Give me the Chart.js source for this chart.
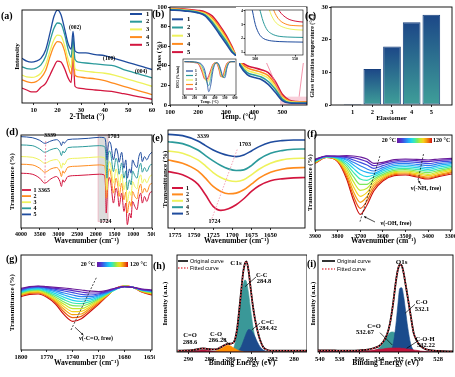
<!DOCTYPE html>
<html>
<head>
<meta charset="utf-8">
<script src="https://cdn.jsdelivr.net/npm/chart.js@4.4.1/dist/chart.umd.min.js"></script>
<style>
  body { margin: 0; background: #fff; width: 455px; height: 377px; overflow: hidden; position: relative; }
  canvas { position: absolute; }
  .lab { position: absolute; z-index: 5; font: bold 10px 'Liberation Serif', 'Times New Roman', serif; line-height: 10px; }
</style>
</head>
<body>
<div class="lab" style="left:1px;top:11px">(a)</div>
<div class="lab" style="left:152px;top:9px">(b)</div>
<div class="lab" style="left:305px;top:11px">(c)</div>
<div class="lab" style="left:6px;top:127px">(d)</div>
<div class="lab" style="left:152px;top:133px">(e)</div>
<div class="lab" style="left:307px;top:129px">(f)</div>
<div class="lab" style="left:6px;top:254px">(g)</div>
<div class="lab" style="left:153px;top:261px">(h)</div>
<div class="lab" style="left:307px;top:259px">(i)</div>
<script>
// ---------- data ----------
// colours of samples 1..5
const S1 = '#1f4c9e', S2 = '#2b9a9b', S3 = '#eef25c', S4 = '#ff8b1e', S5 = '#d3163f';

// (a) XRD
const xrdTheta = [5, 7, 9, 11, 13, 15, 17, 18.5, 20, 21.5, 23, 24.5, 25.8, 26.6, 27.4, 29, 32, 36, 40, 44, 48, 52, 56, 60];
const xrd1 = [48, 45, 44, 45, 48, 57, 77, 93, 100, 95, 80, 64, 58, 77, 56, 54, 54, 52, 51, 48, 45, 42, 39, 36];
const xrd2 = [39, 37, 36.5, 37.5, 41, 50, 68, 80, 86, 85, 74, 58, 49, 70, 47, 44, 43, 42, 41, 40, 36, 33, 30, 27];
const xrd3 = [30, 28, 27.5, 28.5, 32, 41, 57, 68, 73, 72, 62, 47, 38, 64, 37, 35, 34, 33, 32, 30, 27, 24, 21, 18];
const xrd4 = [25, 23, 22, 23, 27, 35, 51, 61, 66, 65, 56, 40, 31, 62, 30, 28, 27, 26, 24, 21, 18, 15, 12, 9];
const xrd5 = [16, 14, 12, 12, 17, 21, 31, 39, 45, 44, 37, 27, 22, 54, 18, 16, 15, 14, 13, 12, 10, 8, 6, 4];
const xrdTicks = [10, 20, 30, 40, 50, 60];

// (b) TGA
const tgaTemp = [100, 150, 200, 225, 250, 275, 300, 320, 335, 350, 375, 400, 425, 450, 475, 500, 525, 550, 588];
const tga1 = [97, 96, 94, 91, 83, 72.7, 62.5, 54, 50, 40, 31, 28, 26, 21, 13, 4.4, 2, 1.8, 1.7];
const tga2 = [97.5, 96.5, 94.5, 92, 85, 75, 65, 55.5, 50.2, 41.5, 33, 30.5, 28.5, 24, 16, 6, 2.5, 2.1, 2.1];
const tga3 = [98, 97, 95, 93, 87, 77.5, 67, 57, 50.4, 42.5, 35.5, 33, 31, 27.5, 18.5, 7.5, 3.2, 2.7, 2.6];
const tga4 = [98, 97.5, 95.5, 94, 89, 80, 69, 58.5, 50.6, 43.5, 38, 35.5, 33.5, 30, 21, 9, 4, 3, 2.9];
const tga5 = [98.5, 98, 96.5, 95, 91, 82, 71, 60, 50.8, 45, 40, 38, 36, 33, 24, 11, 5, 3.5, 3.2];
const tgaTicksX = [100, 200, 300, 400, 500];
const tgaTicksY = [0, 20, 40, 60, 80, 100];
// (b) zoomed tail inset
const tailTemp = [487, 495, 500, 505, 510, 515, 520, 525, 530, 540, 550, 560];
const tail1 = [5, 4.3, 3.0, 2.3, 2.0, 1.88, 1.82, 1.79, 1.77, 1.75, 1.74, 1.73];
const tail2 = [5, 5, 5, 4.2, 3.2, 2.6, 2.35, 2.22, 2.15, 2.1, 2.08, 2.07];
const tail3 = [5, 5, 5, 5, 5, 4.5, 3.7, 3.2, 2.95, 2.72, 2.63, 2.6];
const tail4 = [5, 5, 5, 5, 5, 5, 4.5, 3.8, 3.35, 3.0, 2.92, 2.9];
const tail5 = [5, 5, 5, 5, 5, 5, 5, 4.6, 4.0, 3.45, 3.25, 3.18];
// (b) DTG inset
const dtgTemp = [100, 150, 200, 240, 270, 300, 320, 340, 360, 380, 400, 420, 440, 460, 480, 500, 520, 540, 570, 600];
const dtg1 = [0, 0, -1, -3, -8, -25, -55, -90, -70, -30, -8, -3, -8, -25, -45, -48, -20, -4, 0, 0];
const dtg2 = [0, 0, -1, -4, -12, -35, -60, -72, -50, -20, -6, -3, -10, -30, -47, -40, -14, -3, 0, 0];
const dtg3 = [0, 0, -2, -5, -18, -45, -60, -58, -38, -14, -5, -4, -14, -38, -48, -32, -10, -2, 0, 0];
const dtg4 = [0, 0, -2, -6, -22, -50, -57, -50, -30, -11, -4, -5, -18, -42, -47, -25, -7, -2, 0, 0];
const dtg5 = [0, -1, -3, -8, -28, -52, -53, -42, -24, -9, -4, -6, -22, -45, -43, -20, -5, -1, 0, 0];

// (c) glass transition
const elastomer = [1, 2, 3, 4, 5];
const tgValues = [0.3, 11, 17.9, 25.3, 27.6];

// (d) FTIR full range
const ftirWn = [4000, 3700, 3500, 3365, 3200, 3050, 2960, 2920, 2880, 2850, 2750, 2500, 2200, 1900, 1780, 1740, 1724, 1703, 1680, 1640,
  1600, 1530, 1460, 1410, 1380, 1310, 1250, 1200, 1160, 1100, 1060, 1020, 960, 900, 850, 800, 760, 700, 640, 560, 500];
const ftir1 = [165, 162, 150, 135, 148, 155, 140, 125, 145, 138, 155, 158, 160, 162, 160, 120, 45, 80, 130, 152,
  135, 75, 120, 95, 65, 105, 50, 75, 10, 45, 30, 80, 65, 55, 90, 105, 75, 95, 80, 105, 110];
const ftir2 = [192, 190, 180, 168, 178, 182, 170, 155, 172, 165, 183, 186, 188, 190, 188, 165, 90, 100, 150, 178,
  162, 105, 150, 125, 95, 135, 85, 108, 45, 80, 65, 110, 95, 88, 118, 132, 105, 120, 108, 130, 135];
const ftir3 = [215, 213, 205, 195, 203, 206, 195, 180, 196, 190, 207, 210, 212, 214, 212, 195, 125, 115, 170, 200,
  188, 135, 178, 155, 125, 162, 115, 138, 78, 110, 98, 140, 125, 118, 148, 160, 135, 148, 136, 155, 160];
const ftir4 = [250, 248, 238, 228, 236, 240, 230, 218, 232, 226, 242, 244, 246, 248, 246, 232, 190, 150, 205, 232,
  222, 170, 210, 190, 162, 196, 150, 172, 115, 145, 130, 172, 158, 150, 180, 195, 168, 182, 170, 188, 192];
const ftir5 = [275, 272, 264, 255, 262, 266, 258, 248, 260, 255, 266, 268, 270, 273, 272, 262, 240, 205, 238, 260,
  252, 205, 240, 222, 198, 228, 180, 205, 150, 178, 165, 205, 190, 182, 215, 228, 200, 215, 205, 222, 228];
const ftirTicks = [4000, 3500, 3000, 2500, 2000, 1500, 1000, 500];

// (e) C=O region
const coWn = [1785, 1765, 1745, 1735, 1725, 1715, 1705, 1695, 1685, 1675, 1665, 1650, 1635, 1620, 1605];
const co1 = [170, 160, 132, 100, 65, 53, 58, 70, 88, 110, 127, 142, 148, 151, 152];
const co2 = [205, 195, 172, 150, 125, 110, 103, 105, 115, 132, 150, 168, 177, 181, 182];
const co3 = [232, 225, 205, 187, 167, 152, 143, 140, 145, 160, 177, 195, 205, 209, 210];
const co4 = [260, 254, 235, 218, 202, 188, 178, 173, 175, 188, 207, 225, 233, 237, 238];
const co5 = [282, 278, 262, 248, 235, 225, 218, 215, 220, 232, 245, 258, 263, 265, 265];
const coTicks = [1775, 1750, 1725, 1700, 1675, 1650];

// (f) variable-temperature FTIR, OH/NH region, 20 -> 120 °C
const ohWn = [3900, 3850, 3800, 3760, 3730, 3700, 3670, 3640, 3600, 3550, 3500, 3450, 3400, 3350, 3294];
const oh01 = [212, 222, 222, 223, 222, 219, 213, 200, 203, 211, 213, 212, 210, 213, 215];
const oh02 = [211, 222, 221, 220, 217, 212, 205, 193, 199, 207, 210, 208, 205, 209, 211];
const oh03 = [210, 221, 220, 217, 210, 203, 195, 185, 193, 203, 205, 203, 199, 204, 207];
const oh04 = [209, 221, 219, 213, 203, 193, 183, 177, 187, 198, 200, 197, 193, 199, 203];
const oh05 = [208, 221, 218, 209, 195, 181, 173, 170, 182, 193, 195, 192, 187, 194, 199];
const oh06 = [207, 220, 216, 203, 185, 167, 160, 165, 177, 188, 190, 187, 182, 189, 195];
const oh07 = [206, 220, 215, 197, 173, 153, 149, 159, 172, 183, 185, 182, 177, 184, 191];
const oh08 = [205, 220, 213, 190, 160, 137, 137, 153, 167, 179, 181, 177, 172, 179, 187];
const oh09 = [204, 219, 211, 183, 145, 119, 125, 147, 163, 175, 177, 173, 167, 175, 183];
const oh10 = [203, 219, 209, 175, 130, 101, 113, 140, 159, 172, 174, 169, 163, 171, 179];
const oh11 = [202, 219, 208, 167, 115, 83, 100, 133, 155, 169, 171, 165, 159, 167, 175];
const oh12 = [201, 218, 207, 160, 102, 65, 87, 125, 151, 166, 168, 162, 156, 164, 172];
const oh13 = [200, 218, 205, 153, 90, 47, 75, 117, 147, 163, 165, 159, 153, 161, 168];
const ohTicks = [3900, 3800, 3700, 3600, 3500, 3400, 3300];

// (g) variable-temperature FTIR, C=O region
const cfWn = [1800, 1790, 1780, 1770, 1760, 1750, 1740, 1730, 1720, 1710, 1700, 1690, 1680, 1670, 1660, 1648];
const cf01 = [185, 190, 192, 190, 188, 186, 183, 180, 177, 175, 179, 186, 190, 188, 183, 180];
const cf02 = [183, 189, 191, 188, 185, 182, 178, 174, 171, 171, 177, 185, 190, 188, 182, 179];
const cf03 = [181, 188, 190, 186, 182, 177, 172, 167, 165, 168, 175, 184, 190, 188, 181, 178];
const cf04 = [179, 186, 188, 184, 178, 171, 165, 160, 160, 165, 173, 183, 190, 188, 181, 177];
const cf05 = [177, 184, 186, 181, 174, 165, 157, 153, 155, 162, 172, 183, 190, 188, 180, 176];
const cf06 = [175, 182, 184, 178, 169, 158, 149, 146, 150, 159, 170, 182, 191, 188, 180, 175];
const cf07 = [173, 180, 182, 175, 164, 151, 141, 139, 145, 156, 169, 182, 191, 188, 179, 174];
const cf08 = [171, 178, 180, 172, 159, 144, 133, 132, 140, 153, 167, 183, 191, 188, 178, 172];
const cf09 = [169, 176, 178, 169, 154, 137, 124, 124, 135, 150, 166, 183, 191, 188, 178, 171];
const cf10 = [167, 174, 175, 166, 150, 130, 115, 116, 130, 147, 165, 184, 192, 188, 177, 169];
const cf11 = [165, 172, 173, 164, 146, 122, 106, 108, 125, 144, 164, 184, 192, 188, 176, 168];
const cf12 = [163, 170, 171, 161, 143, 114, 97, 101, 120, 140, 163, 185, 192, 188, 175, 167];
const cf13 = [160, 167, 168, 158, 138, 106, 86, 94, 115, 137, 162, 185, 192, 188, 174, 165];
const cfTicks = [1800, 1770, 1740, 1710, 1680, 1650];

// (h) XPS C1s
const c1sBE = [291, 290, 289.5, 289, 288.6, 288.2, 287.8, 287.4, 287, 286.6, 286.3, 286, 285.7, 285.4, 285.2, 285,
  284.8, 284.65, 284.5, 284.3, 284.1, 283.9, 283.7, 283.5, 283.2, 282.9, 282.5, 282, 281, 280, 278.77];
const c1sOrig = [4, 5, 6, 9, 11, 9, 8, 8, 13, 20, 24, 25, 29, 65, 120, 182, 240, 264, 271, 243, 190, 140, 100, 70, 35, 14, 6, 4, 4, 4, 4];
const c1sCdO = [0, 0.5, 2, 5, 7, 5, 3, 1, 0, 0, 0, 0, 0, 0, 0, 0, 0, 0, 0, 0, 0, 0, 0, 0, 0, 0, 0, 0, 0, 0, 0];
const c1sCO = [0, 0, 0, 0, 0, 0, 1, 3, 9, 16, 20, 18, 12, 7, 4, 2, 1, 0, 0, 0, 0, 0, 0, 0, 0, 0, 0, 0, 0, 0, 0];
const c1sCC = [0, 0, 0, 0, 0, 0, 0, 0, 0, 0, 0, 3, 13, 54, 105, 160, 203, 215, 210, 175, 125, 80, 45, 22, 6, 1, 0, 0, 0, 0, 0];
const c1sCeC = [0, 0, 0, 0, 0, 0, 0, 0, 0, 0, 0, 0, 0, 0, 7, 16, 32, 45, 57, 67, 66, 58, 46, 32, 15, 6, 1, 0, 0, 0, 0];
const c1sTicks = [290, 288, 286, 284, 282, 280];

// (i) XPS O1s
const o1sBE = [540.2, 539, 538, 537, 536, 535, 534.5, 534, 533.6, 533.2, 532.9, 532.6, 532.3, 532.1, 531.9, 531.7,
  531.5, 531.3, 531.1, 530.8, 530.5, 530.2, 529.8, 529.4, 529, 528, 527, 526.5];
const o1sOrig = [5, 5, 4, 4, 5, 8, 12, 18, 30, 52, 85, 140, 210, 245, 262, 258, 235, 200, 165, 110, 58, 35, 18, 10, 6, 3, 2, 2];
const o1sCO = [0, 0, 0, 0, 0, 0, 0, 0, 0, 0, 2, 20, 80, 140, 190, 192, 165, 120, 75, 25, 5, 0, 0, 0, 0, 0, 0, 0];
const o1sCdO = [0, 0, 0, 0, 0, 1, 4, 12, 25, 45, 58, 60, 55, 48, 40, 32, 24, 16, 10, 5, 2, 0, 0, 0, 0, 0, 0, 0];
const o1sCOH = [3, 2, 1, 1, 2, 4, 6, 8, 9, 11, 12, 12, 12, 12, 12, 11, 11, 10, 9, 8, 6, 5, 3, 2, 1, 0.5, 0, 0];
const o1sTicks = [540, 538, 536, 534, 532, 530, 528];

// 20 °C (purple) -> 120 °C (red)
const RAINBOW = ['#6a1b9a', '#5b2bc4', '#3f4fe0', '#2c80f0', '#22aff5', '#22d6e6', '#3de8b0',
  '#7ee85c', '#c4e82c', '#f5d21e', '#f5a012', '#ee6010', '#cc1010'];

// ---------- helpers ----------
const SERIF = "'Liberation Serif', 'Times New Roman', serif";
const SANS = "'Liberation Sans', Arial, sans-serif";
function fs(size, weight, fam) { return (weight || 'bold') + ' ' + size + 'px ' + (fam || SERIF); }

function drawItem(ch, it) {
  const c = ch.ctx;
  const P = (x, y) => it.px ? [x, y] : [ch.scales.x.getPixelForValue(x), ch.scales.y.getPixelForValue(y)];
  c.save();
  c.strokeStyle = c.fillStyle = it.color || '#000';
  c.lineWidth = it.w || 0.8;
  c.setLineDash(it.dash || []);
  if (it.k === 't') {
    const p = P(it.x, it.y);
    c.font = fs(it.size || 6.5, it.weight, it.fam);
    c.textAlign = it.align || 'center';
    c.textBaseline = 'middle';
    c.fillText(it.s, p[0], p[1]);
  } else if (it.k === 'l') {
    const a = P(it.x1, it.y1), b = P(it.x2, it.y2);
    c.beginPath(); c.moveTo(a[0], a[1]); c.lineTo(b[0], b[1]); c.stroke();
    if (it.head) {
      const ang = Math.atan2(b[1] - a[1], b[0] - a[0]), h = it.head;
      c.setLineDash([]);
      c.beginPath(); c.moveTo(b[0], b[1]);
      c.lineTo(b[0] - h * Math.cos(ang - 0.45), b[1] - h * Math.sin(ang - 0.45));
      c.lineTo(b[0] - h * Math.cos(ang + 0.45), b[1] - h * Math.sin(ang + 0.45));
      c.closePath(); c.fill();
    }
  } else if (it.k === 'r') {
    const a = P(it.x1, it.y1), b = P(it.x2, it.y2);
    c.fillStyle = it.fill;
    c.fillRect(a[0], a[1], b[0] - a[0], b[1] - a[1]);
    if (it.stroke) { c.strokeStyle = it.stroke; c.strokeRect(a[0], a[1], b[0] - a[0], b[1] - a[1]); }
  } else if (it.k === 'leg') {
    it.items.forEach((e, i) => {
      const y = it.y + i * it.dy;
      c.strokeStyle = e[1]; c.lineWidth = it.lw || 2; c.setLineDash(e[2] || []);
      c.beginPath(); c.moveTo(it.x, y); c.lineTo(it.x + it.len, y); c.stroke();
      c.fillStyle = '#000';
      c.font = fs(it.size || 6.5, it.weight, it.fam);
      c.textAlign = 'left'; c.textBaseline = 'middle';
      c.fillText(e[0], it.x + it.len + (it.gap || 3), y);
    });
  } else if (it.k === 'cb') {
    const g = c.createLinearGradient(it.x, 0, it.x + it.wd, 0);
    RAINBOW.forEach((col, i) => g.addColorStop(i / (RAINBOW.length - 1), col));
    c.fillStyle = g;
    c.fillRect(it.x, it.y, it.wd, it.ht);
  }
  c.restore();
}

// frame, annotations, white background for insets
Chart.register({
  id: 'notes',
  beforeDraw(ch) {
    const o = ch.canvas._notes || {};
    if (o.bg) { ch.ctx.save(); ch.ctx.fillStyle = '#fff'; ch.ctx.fillRect(0, 0, ch.width, ch.height); ch.ctx.restore(); }
  },
  beforeDatasetsDraw(ch) { ((ch.canvas._notes || {}).under || []).forEach(it => drawItem(ch, it)); },
  afterDatasetsDraw(ch) {
    const o = ch.canvas._notes || {}, a = ch.chartArea, c = ch.ctx;
    c.save(); c.strokeStyle = '#000'; c.lineWidth = o.fw || 0.9;
    c.strokeRect(a.left, a.top, a.right - a.left, a.bottom - a.top);
    c.restore();
    (o.over || []).forEach(it => drawItem(ch, it));
  }
});

function axis(o, horiz) {
  const a = {
    type: 'linear', min: o.min, max: o.max, reverse: !!o.rev, offset: false,
    ticks: { display: !!o.ticks, font: { family: SERIF, size: o.tf || 6.5, weight: 'bold' }, color: '#000',
      padding: o.tp == null ? 1 : o.tp, maxRotation: 0, autoSkip: false, callback: v => String(v) },
    grid: { display: !!o.ticks, drawOnChartArea: false, color: '#000', tickLength: o.tl || 2, offset: false, lineWidth: 0.8 },
    border: { display: false },
    title: { display: !!o.title, text: o.title, color: '#000', font: { family: SERIF, size: o.ttf || 7, weight: 'bold' }, padding: 0 },
    afterFit: s => {
      if (horiz) { s.height = o.size; s.paddingLeft = 0; s.paddingRight = 0; }
      else { s.width = o.size; s.paddingTop = 0; s.paddingBottom = 0; }
    }
  };
  if (o.ticks) a.afterBuildTicks = s => { s.ticks = o.ticks.map(v => ({ value: v })); };
  return a;
}

function chart(box, sets, o) {
  const cv = document.createElement('canvas');
  cv.width = box[2]; cv.height = box[3];
  cv.style.left = box[0] + 'px'; cv.style.top = box[1] + 'px';
  cv._notes = o.notes || {};
  document.body.appendChild(cv);
  return new Chart(cv, {
    type: o.type || 'line',
    data: { datasets: sets },
    options: {
      responsive: false, animation: false, devicePixelRatio: 1, events: [],
      layout: { padding: { left: o.pad[0], top: o.pad[1], right: o.pad[2], bottom: 0 } },
      scales: { x: axis(o.x, true), y: axis(o.y, false) },
      plugins: { legend: { display: false }, tooltip: { enabled: false } }
    }
  });
}

function line(xs, ys, color, w, more) {
  return Object.assign({
    data: xs.map((x, i) => ({ x: x, y: ys[i] })),
    borderColor: color, borderWidth: w, pointRadius: 0, fill: false,
    cubicInterpolationMode: 'monotone'
  }, more || {});
}
function area(xs, ys, color) { return line(xs, ys, color, 0.6, { fill: 'origin', backgroundColor: color }); }

const legend5 = [['1', S1], ['2', S2], ['3', S3], ['4', S4], ['5', S5]];
const legend5r = [['1', S5], ['2', S4], ['3', S3], ['4', S2], ['5', S1]];
const WN = 'Wavenumber (cm\u207B\u00B9)';

// ---------- (a) ----------
chart([0, 0, 155, 122], [
  line(xrdTheta, xrd1, S1, 1.3), line(xrdTheta, xrd2, S2, 1.3), line(xrdTheta, xrd3, S3, 1.3),
  line(xrdTheta, xrd4, S4, 1.3), line(xrdTheta, xrd5, S5, 1.3)
], {
  pad: [12.5, 10, 3],
  x: { min: 5, max: 60, ticks: xrdTicks, title: '2-Theta (\u00B0)', size: 19, ttf: 7.5 },
  y: { min: 0, max: 100, title: 'Intensity', size: 9.5 },
  notes: { over: [
    { k: 't', px: 1, x: 75, y: 28, s: '(002)', size: 5.5 },
    { k: 't', px: 1, x: 109, y: 59, s: '(100)', size: 5.5 },
    { k: 't', px: 1, x: 141, y: 72, s: '(004)', size: 5.5 },
    { k: 'leg', px: 1, x: 130, y: 14, dy: 7.7, len: 12, lw: 2, gap: 4, size: 6.5, items: legend5 }
  ] }
});

// ---------- (b) ----------
chart([152, 0, 157, 122], [
  line(tgaTemp, tga1, S1, 1.6), line(tgaTemp, tga2, S2, 1.6), line(tgaTemp, tga3, S3, 1.6),
  line(tgaTemp, tga4, S4, 1.6), line(tgaTemp, tga5, S5, 1.6)
], {
  pad: [3, 7, 2],
  x: { min: 100, max: 588, ticks: tgaTicksX, title: 'Temp. (\u00B0C)', size: 17, ttf: 7.5 },
  y: { min: 0, max: 100, ticks: tgaTicksY, title: 'Mass (%)', size: 15 },
  notes: {
    under: [{ k: 'r', x1: 492, y1: 0, x2: 588, y2: 8.5, fill: 'rgba(244,170,190,0.55)' }],
    over: [
      { k: 'leg', px: 1, x: 20, y: 19.3, dy: 8.2, len: 11, lw: 2, gap: 4, size: 6.5, items: legend5 },
      { k: 'l', x1: 497, y1: 8.5, x2: 433, y2: 50, color: '#f07a95', w: 0.8, head: 3 },
      { k: 'l', x1: 560, y1: 8.5, x2: 578, y2: 50, color: '#f07a95', w: 0.8, head: 3 }
    ]
  }
});

// (b) inset: tail of TGA curves
chart([236, 7, 70, 56], [
  line(tailTemp, tail1, S1, 1), line(tailTemp, tail2, S2, 1), line(tailTemp, tail3, S3, 1),
  line(tailTemp, tail4, S4, 1), line(tailTemp, tail5, S5, 1)
], {
  pad: [0, 3, 3],
  x: { min: 487, max: 560, ticks: [500, 550], size: 8, tf: 4, tl: 1.5, tp: 0.5 },
  y: { min: 0.8, max: 4.05, ticks: [1, 2, 3, 4], size: 9, tf: 4, tl: 1.5, tp: 0.5 },
  notes: { bg: true, fw: 0.6 }
});

// (b) inset: DTG
chart([172, 56, 67, 48], [
  line(dtgTemp, dtg1, S1, 0.8), line(dtgTemp, dtg2, S2, 0.8), line(dtgTemp, dtg3, S3, 0.8),
  line(dtgTemp, dtg4, S4, 0.8), line(dtgTemp, dtg5, S5, 0.8)
], {
  pad: [4, 3, 3],
  x: { min: 85, max: 610, ticks: [100, 200, 300, 400, 500, 600], title: 'Temp. (\u00B0C)', size: 9, tf: 3.4, ttf: 3.8, tl: 1.2, tp: 0.3 },
  y: { min: -100, max: 8, title: 'DTG (%/min)', size: 7, ttf: 3.6 },
  notes: { bg: true, fw: 0.6, over: [
    { k: 'leg', px: 1, x: 14, y: 15, dy: 4.5, len: 7, lw: 1.2, gap: 2, size: 3.6, items: legend5 }
  ] }
});

// ---------- (c) ----------
chart([305, 0, 150, 122], [{
  data: elastomer.map((x, i) => ({ x: x, y: tgValues[i] })),
  backgroundColor: ctx => {
    const ch = ctx.chart;
    if (!ch.chartArea || !ctx.parsed) return '#2a6a92';
    const ys = ch.scales.y;
    const top = ys.getPixelForValue(ctx.parsed.y), bot = ys.getPixelForValue(0);
    const g = ch.ctx.createLinearGradient(0, top, 0, bot + 0.01);
    g.addColorStop(0, '#1c4787');
    g.addColorStop(1, '#3f9f99');
    return g;
  },
  borderColor: '#17407e', borderWidth: 1, borderSkipped: false,
  barPercentage: 0.9, categoryPercentage: 1
}], {
  type: 'bar',
  pad: [4, 7, 3],
  x: { min: -0.1, max: 6.05, ticks: elastomer, title: 'Elastomer', size: 17, ttf: 7 },
  y: { min: 0, max: 30, ticks: [0, 10, 20, 30], title: 'Glass transition temperature (\u00B0C)', size: 22, ttf: 5.8 },
  notes: {}
});

// ---------- (d) ----------
chart([0, 124, 155, 122], [
  line(ftirWn, ftir5, S1, 1), line(ftirWn, ftir4, S2, 1), line(ftirWn, ftir3, S3, 1),
  line(ftirWn, ftir2, S4, 1), line(ftirWn, ftir1, S5, 1)
], {
  pad: [7.5, 11, 3],
  x: { min: 500, max: 4000, rev: true, ticks: ftirTicks, title: WN, size: 18, tf: 6, ttf: 7.5 },
  y: { min: 0, max: 280, title: 'Transmittance (%)', size: 13.5 },
  notes: {
    under: [{ k: 'r', x1: 1940, y1: 20, x2: 1675, y2: 280, fill: 'rgba(205,205,205,0.7)', stroke: 'rgba(240,170,185,0.9)' }],
    over: [
      { k: 'l', x1: 3339, y1: 262, x2: 3365, y2: 135, color: '#f07a95', dash: [2, 1.5], w: 0.8 },
      { k: 't', px: 1, x: 50, y: 11.5, s: '3339', size: 6 },
      { k: 't', px: 1, x: 113.5, y: 12.7, s: '1703', size: 6 },
      { k: 't', px: 1, x: 105.5, y: 97.7, s: '1724', size: 6 },
      { k: 't', px: 1, x: 38, y: 66, s: '3365', size: 6, align: 'left' },
      { k: 'leg', px: 1, x: 22, y: 66, dy: 6.1, len: 9, lw: 1.8, gap: 2.5, size: 6, items: legend5r }
    ]
  }
});

// ---------- (e) ----------
chart([150, 124, 157, 122], [
  line(coWn, co5, S1, 1.6), line(coWn, co4, S2, 1.6), line(coWn, co3, S3, 1.6),
  line(coWn, co2, S4, 1.6), line(coWn, co1, S5, 1.6)
], {
  pad: [10.8, 6, 2],
  x: { min: 1605, max: 1784, rev: true, ticks: coTicks, title: WN, size: 18, tf: 6.5, ttf: 7.5 },
  y: { min: 0, max: 295, title: 'Transmittance (%)', size: 7.2 },
  notes: { over: [
    { k: 'l', x1: 1728, y1: 20, x2: 1693, y2: 240, color: '#f5a5b8', dash: [1.5, 1.5], w: 1 },
    { k: 't', px: 1, x: 53, y: 12.7, s: '3339', size: 6 },
    { k: 't', px: 1, x: 95, y: 20.3, s: '1703', size: 6 },
    { k: 't', px: 1, x: 64.5, y: 97.7, s: '1724', size: 6 },
    { k: 'leg', px: 1, x: 22, y: 64, dy: 6.4, len: 11, lw: 2, gap: 3, size: 6, items: legend5r }
  ] }
});

// ---------- (f) ----------
const ohSets = [oh01, oh02, oh03, oh04, oh05, oh06, oh07, oh08, oh09, oh10, oh11, oh12, oh13];
chart([305, 124, 150, 122], ohSets.map((ys, i) => line(ohWn, ys, RAINBOW[i], 1.2)), {
  pad: [0.8, 11, 3],
  x: { min: 3294, max: 3900, rev: true, ticks: ohTicks, title: WN, size: 16, tf: 6, ttf: 7.5 },
  y: { min: 0, max: 285, title: 'Transmittance (%)', size: 9.2 },
  notes: { over: [
    { k: 'cb', x: 92, y: 14, wd: 35, ht: 5 },
    { k: 't', px: 1, x: 91, y: 16.5, s: '20 \u00B0C', size: 6, align: 'right' },
    { k: 't', px: 1, x: 128, y: 16.5, s: '120 \u00B0C', size: 6, align: 'left' },
    { k: 'l', x1: 3701, y1: 25, x2: 3613, y2: 222, dash: [2, 1.5], w: 0.7 },
    { k: 'l', x1: 3444, y1: 150, x2: 3420, y2: 228, dash: [2, 1.5], w: 0.7 },
    { k: 'l', px: 1, x1: 70, y1: 98, x2: 59, y2: 92.5, w: 0.7, head: 2.5 },
    { k: 'l', px: 1, x1: 116, y1: 61, x2: 113.5, y2: 56.5, w: 0.7, head: 2.5 },
    { k: 't', px: 1, x: 91, y: 99, s: '\u03BD(-OH, free)', size: 6 },
    { k: 't', px: 1, x: 121, y: 64.5, s: '\u03BD(-NH, free)', size: 6 }
  ] }
});

// ---------- (g) ----------
const cfSets = [cf01, cf02, cf03, cf04, cf05, cf06, cf07, cf08, cf09, cf10, cf11, cf12, cf13];
chart([0, 246, 155, 122], cfSets.map((ys, i) => line(cfWn, ys, RAINBOW[i], 1.2)), {
  pad: [7.5, 9, 3],
  x: { min: 1648, max: 1800, rev: true, ticks: cfTicks, title: WN, size: 18, tf: 6.5, ttf: 7.5 },
  y: { min: 0, max: 285, title: 'Transmittance (%)', size: 13.5 },
  notes: { over: [
    { k: 'cb', x: 97, y: 16, wd: 31, ht: 5 },
    { k: 't', px: 1, x: 95, y: 18.5, s: '20 \u00B0C', size: 6, align: 'right' },
    { k: 't', px: 1, x: 130, y: 18.5, s: '120 \u00B0C', size: 6, align: 'left' },
    { k: 'l', x1: 1742, y1: 60, x2: 1712, y2: 220, dash: [2, 1.5], w: 0.7 },
    { k: 'l', px: 1, x1: 75, y1: 81.3, x2: 83.3, y2: 89, w: 0.7, head: 2.5 },
    { k: 't', px: 1, x: 96, y: 92, s: '\u03BD(-C=O, free)', size: 6 }
  ] }
});

// ---------- (h) ----------
const fitLegend = [['Original curve', '#000'], ['Fitted curve', '#e8505a', [1.5, 1.5]]];
chart([150, 246, 157, 122], [
  line(c1sBE, c1sOrig, '#e8505a', 1.3, { borderDash: [1.5, 1.5] }),
  line(c1sBE, c1sOrig, '#000', 1.8),
  area(c1sBE, c1sCdO, '#b8163e'),
  area(c1sBE, c1sCO, '#ff8c00'),
  area(c1sBE, c1sCeC, '#1d4c8c'),
  area(c1sBE, c1sCC, '#3a9898')
], {
  pad: [10.8, 9, 0],
  x: { min: 278.77, max: 291.07, rev: true, ticks: c1sTicks, title: 'Binding Energy (eV)', size: 16, ttf: 7.5 },
  y: { min: 0, max: 290, title: 'Intensity (a.u.)', size: 16.2 },
  notes: { over: [
    { k: 'leg', px: 1, x: 28, y: 15, dy: 7, len: 10, lw: 1.6, gap: 2, size: 5.5, weight: 'normal', fam: SANS, items: fitLegend },
    { k: 't', px: 1, x: 86, y: 17, s: 'C1s', size: 7 },
    { k: 't', px: 1, x: 111.7, y: 29.5, s: 'C-C', size: 6.5 },
    { k: 't', px: 1, x: 114, y: 35.5, s: '284.8', size: 6.5 },
    { k: 'l', px: 1, x1: 106, y1: 31, x2: 95, y2: 40.7, w: 0.7 },
    { k: 't', px: 1, x: 117.5, y: 76, s: 'C=C', size: 6.5 },
    { k: 't', px: 1, x: 118, y: 82, s: '284.42', size: 6.5 },
    { k: 'l', px: 1, x1: 110, y1: 77, x2: 101.7, y2: 84, w: 0.7 },
    { k: 't', px: 1, x: 40, y: 89.5, s: 'C=O', size: 6.5 },
    { k: 't', px: 1, x: 40, y: 96, s: '288.6', size: 6.5 },
    { k: 't', px: 1, x: 66, y: 88, s: 'C-O', size: 6.5 },
    { k: 't', px: 1, x: 67.5, y: 94, s: '286.28', size: 6.5 },
    { k: 'l', px: 1, x1: 71.7, y1: 91.3, x2: 80, y2: 99, w: 0.7 }
  ] }
});

// ---------- (i) ----------
chart([305, 246, 150, 122], [
  line(o1sBE, o1sOrig, '#e8505a', 1.3, { borderDash: [1.5, 1.5] }),
  line(o1sBE, o1sOrig, '#000', 1.8),
  area(o1sBE, o1sCOH, '#c0143c'),
  area(o1sBE, o1sCO, '#1a4b8c'),
  area(o1sBE, o1sCdO, '#3a9898')
], {
  pad: [4.1, 9, 2],
  x: { min: 526.5, max: 540.2, rev: true, ticks: o1sTicks, title: 'Binding Energy (eV)', size: 16, ttf: 7.5 },
  y: { min: 0, max: 290, title: 'Intensity (a.u.)', size: 8.9 },
  notes: { over: [
    { k: 'leg', px: 1, x: 17, y: 15, dy: 8, len: 13, lw: 1.6, gap: 2, size: 5.5, weight: 'normal', fam: SANS, items: fitLegend },
    { k: 't', px: 1, x: 96.7, y: 16, s: 'O1s', size: 7 },
    { k: 't', px: 1, x: 116.7, y: 56.5, s: 'C-O', size: 6.5 },
    { k: 't', px: 1, x: 117, y: 63.5, s: '532.1', size: 6.5 },
    { k: 'l', px: 1, x1: 110, y1: 58.3, x2: 100, y2: 67.3, w: 0.7 },
    { k: 't', px: 1, x: 69, y: 80.5, s: 'C=O', size: 6.5 },
    { k: 't', px: 1, x: 60, y: 86.5, s: '532.67', size: 6.5 },
    { k: 'l', px: 1, x1: 75, y1: 86.7, x2: 87.3, y2: 99, w: 0.7 },
    { k: 't', px: 1, x: 120, y: 93, s: 'C-O-H', size: 6.5 },
    { k: 't', px: 1, x: 121, y: 99, s: '532.22', size: 6.5 },
    { k: 'l', px: 1, x1: 111.7, y1: 95.7, x2: 101.7, y2: 102.3, w: 0.7 }
  ] }
});
</script>
</body>
</html>
